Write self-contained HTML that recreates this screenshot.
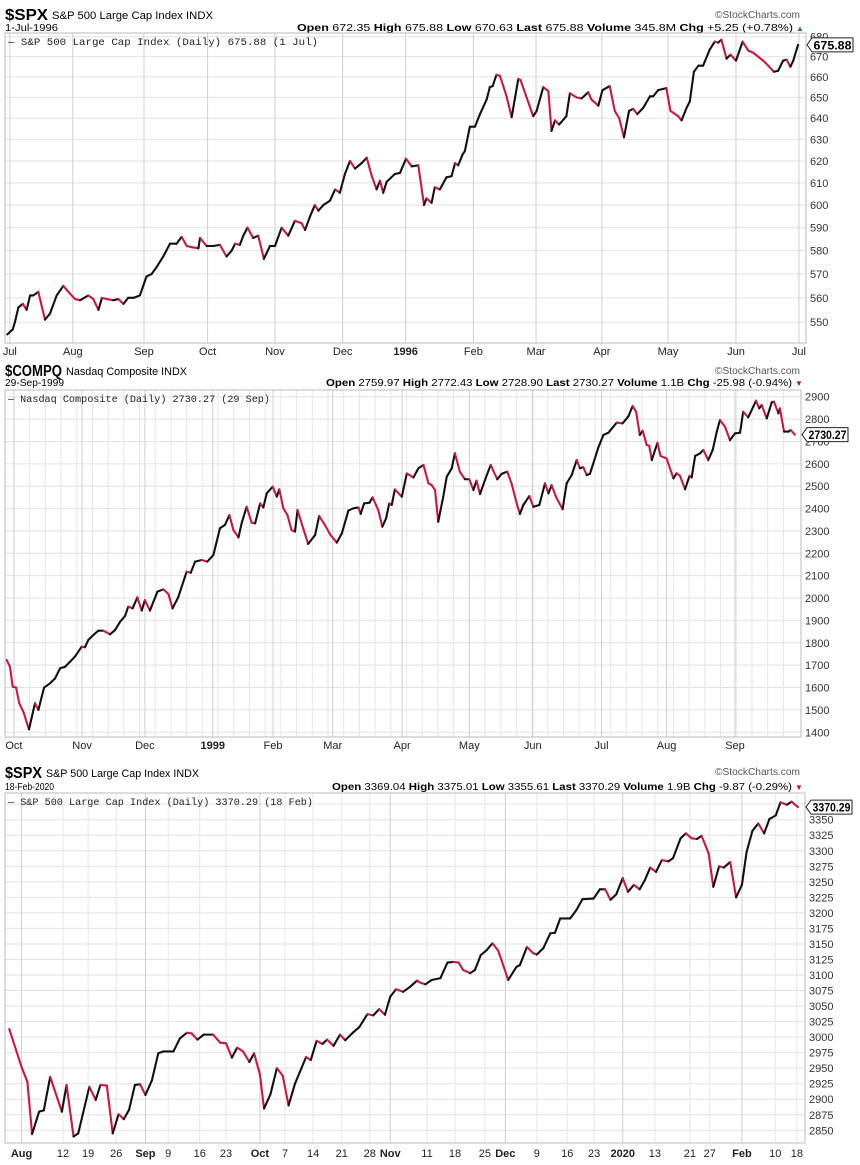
<!DOCTYPE html>
<html><head><meta charset="utf-8">
<style>
html,body{margin:0;padding:0;background:#fff;}
svg{display:block;font-family:"Liberation Sans",sans-serif;}
.mono{font-family:"Liberation Mono",monospace;}
</style></head>
<body>
<svg id="chart" width="860" height="1165" viewBox="0 0 860 1165" xmlns="http://www.w3.org/2000/svg">
<!-- Panel 1 header -->
<g>
<text x="5" y="20" font-size="16" font-weight="bold" textLength="43" lengthAdjust="spacingAndGlyphs">$SPX</text>
<text x="52" y="19" font-size="11" textLength="161" lengthAdjust="spacingAndGlyphs">S&amp;P 500 Large Cap Index  INDX</text>
<text x="715" y="18" font-size="10.5" fill="#555" textLength="85" lengthAdjust="spacingAndGlyphs">©StockCharts.com</text>
<text x="5" y="31" font-size="10.5" textLength="53" lengthAdjust="spacingAndGlyphs">1-Jul-1996</text>
<text x="297" y="31" font-size="10.5" textLength="496" lengthAdjust="spacingAndGlyphs"><tspan font-weight="bold">Open</tspan> 672.35 <tspan font-weight="bold">High</tspan> 675.88 <tspan font-weight="bold">Low</tspan> 670.63 <tspan font-weight="bold">Last</tspan> 675.88 <tspan font-weight="bold">Volume</tspan> 345.8M <tspan font-weight="bold">Chg</tspan> +5.25 (+0.78%)</text>
<text x="796" y="31" font-size="8" fill="#1a8a3a">▲</text>
</g>
<!-- Panel 2 header -->
<g>
<text x="5" y="376" font-size="16" font-weight="bold" textLength="57" lengthAdjust="spacingAndGlyphs">$COMPQ</text>
<text x="66" y="375" font-size="11" textLength="121" lengthAdjust="spacingAndGlyphs">Nasdaq Composite  INDX</text>
<text x="715" y="374" font-size="10.5" fill="#555" textLength="85" lengthAdjust="spacingAndGlyphs">©StockCharts.com</text>
<text x="5" y="386" font-size="10.5" textLength="59" lengthAdjust="spacingAndGlyphs">29-Sep-1999</text>
<text x="326" y="386" font-size="10.5" textLength="466" lengthAdjust="spacingAndGlyphs"><tspan font-weight="bold">Open</tspan> 2759.97 <tspan font-weight="bold">High</tspan> 2772.43 <tspan font-weight="bold">Low</tspan> 2728.90 <tspan font-weight="bold">Last</tspan> 2730.27 <tspan font-weight="bold">Volume</tspan> 1.1B <tspan font-weight="bold">Chg</tspan> -25.98 (-0.94%)</text>
<text x="795" y="386" font-size="8" fill="#c0103a">▼</text>
</g>
<!-- Panel 3 header -->
<g>
<text x="5" y="778" font-size="16" font-weight="bold" textLength="37" lengthAdjust="spacingAndGlyphs">$SPX</text>
<text x="46" y="777" font-size="11" textLength="153" lengthAdjust="spacingAndGlyphs">S&amp;P 500 Large Cap Index  INDX</text>
<text x="715" y="775" font-size="10.5" fill="#555" textLength="85" lengthAdjust="spacingAndGlyphs">©StockCharts.com</text>
<text x="5" y="790" font-size="10.5" textLength="49" lengthAdjust="spacingAndGlyphs">18-Feb-2020</text>
<text x="332" y="790" font-size="10.5" textLength="460" lengthAdjust="spacingAndGlyphs"><tspan font-weight="bold">Open</tspan> 3369.04 <tspan font-weight="bold">High</tspan> 3375.01 <tspan font-weight="bold">Low</tspan> 3355.61 <tspan font-weight="bold">Last</tspan> 3370.29 <tspan font-weight="bold">Volume</tspan> 1.9B <tspan font-weight="bold">Chg</tspan> -9.87 (-0.29%)</text>
<text x="795" y="790" font-size="8" fill="#c0103a">▼</text>
</g>
</svg>
<script>
// ---------- Panel 1: S&P 500 1995-96 (log scale) ----------
const p1Days = [0.1,1.8,2.5,3.6,5.0,6.2,7.3,8.3,9.9,12.0,13.6,15.7,17.8,19.4,21.5,23.1,25.7,27.3,28.9,30.0,31.5,33.6,35.2,36.8,38.3,40.0,42.0,44.1,45.7,47.3,49.4,51.5,53.6,55.2,56.8,58.4,60.5,61.0,63.1,65.2,67.3,69.4,71.0,72.1,73.6,74.7,76.0,77.8,79.4,81.2,83.1,84.7,86.8,88.9,91.0,93.1,94.2,95.8,97.3,98.4,100.0,102.1,103.7,105.2,106.8,108.4,110.0,112.1,113.7,115.2,116.8,117.9,118.9,120.0,122.6,124.2,126.1,127.9,130.0,131.8,132.6,134.2,135.2,136.8,138.9,140.5,141.6,142.6,144.0,144.7,146.3,147.9,149.5,151.6,152.6,153.5,154.7,155.8,157.9,159.5,161.6,162.3,164.0,166.3,167.4,169.5,171.1,172.1,173.2,174.5,176.8,177.9,180.0,181.6,183.7,184.7,186.9,188.2,190.5,192.1,193.5,195.0,196.6,197.9,199.2,201.1,203.2,204.2,205.8,208.4,209.7,212.1,213.2,214.8,215.8,217.1,218.5,220.0,222.1,223.7,224.8,225.8,227.4,228.7,230.4,232.5,234.3,235.8,239.0,240.6,242.4,243.7,245.3,246.4,247.6,248.5,250.0];
const p1Values = [545,547,550,556,557.5,555,561,561,562.5,551,553.5,561,565,562.5,559.5,559,561,559.5,555,560,559.5,559,559.5,557.5,560,560,561,569,570,573,577.5,583,583,586,582,581.5,581,585.5,582,582,582.5,577.5,580,583,582.5,586.5,590,585.5,586.5,576.5,582,582,590,586.5,593,592,589,595,600,597.5,600,602,607,605.5,614,620,616.5,619,621.5,613.5,607,611,605.5,610.5,614,614.5,621,617.5,618,600,603,601,608,607,612.5,613,619,618,623,624.5,636,636,642,649,655,655.5,661,660.5,650.5,640.5,659,658.5,651,641,643.5,655,653,634,639,637,641,652,650,649.5,652.5,649,646,653.5,655.5,643.5,640,631,643.5,644.5,642,645,650.5,650.5,653.5,654.5,643.5,641,639,645,648,662.5,665.5,665.5,673.5,677.5,677,678.5,669,671,668,677.5,673,672,668,665.5,662.5,663,668,668.5,665,668,675.88];
const p1Ticks = [550,560,570,580,590,600,610,620,630,640,650,660,670,680];
const p1Labels = ["Jul","Aug","Sep","Oct","Nov","Dec","1996","Feb","Mar","Apr","May","Jun","Jul"];
const p1LabelDays = [0.9,20.8,43.3,63.4,84.7,106.1,126,147.4,167.2,188,208.9,230.4,250.3];

// ---------- Panel 2: Nasdaq 1998-99 (linear) ----------
const p2Days = [0,1.05,1.9,3.0,4.0,5.3,7.1,9.0,10.1,11.9,13.8,15.4,17.0,18.6,20.2,21.7,23.9,24.9,26.0,27.6,29.2,30.8,32.9,34.5,36.1,37.7,38.7,40.1,41.6,43.0,44.0,45.6,48.0,49.9,51.5,52.8,54.6,57.3,58.6,60.0,62.1,63.9,65.8,67.9,69.5,70.9,72.2,73.8,74.8,76.4,78.0,79.1,80.7,81.7,82.8,84.7,86.0,86.8,88.1,89.4,90.7,91.8,92.6,94.4,96.0,98.2,99.5,101.3,103.1,105.1,106.7,108.8,110.4,112.0,112.7,113.8,115.5,116.5,118.3,119.6,120.8,121.8,122.6,123.6,125.8,127.4,129.5,131.1,132.7,134.3,135.3,136.4,137.4,139.0,140.1,141.7,142.7,144.3,145.9,147.3,148.6,149.6,150.7,152.3,154.1,156.2,157.6,159.4,160.8,162.4,163.4,164.5,166.4,167.7,169.6,171.4,172.5,173.5,174.9,177.0,178.3,179.9,181.5,182.5,183.6,184.7,185.7,188.4,190.0,191.6,194.2,196.1,197.9,199.3,200.4,201.6,202.5,203.8,204.6,205.4,207.2,208.2,210.1,212.3,213.3,214.4,216.0,217.4,218.1,219.2,220.8,221.8,223.4,224.8,226.1,227.1,228.7,230.3,231.9,233.5,234.5,236.1,237.7,238.6,239.6,240.4,242.0,243.6,244.3,245.7,246.2,247.5,248.9,249.6,251.0];
const p2Values = [1723,1693,1604,1600,1530,1492,1413,1530,1500,1600,1619,1641,1686,1693,1716,1738,1783,1780,1813,1835,1854,1854,1838,1857,1894,1920,1962,1954,2003,1944,1991,1944,2029,2039,2018,1954,2003,2118,2113,2163,2170,2163,2192,2312,2327,2371,2304,2271,2334,2408,2337,2334,2423,2405,2468,2498,2453,2486,2401,2371,2304,2297,2394,2312,2242,2282,2367,2327,2282,2248,2289,2391,2401,2405,2376,2423,2426,2450,2394,2319,2356,2423,2416,2486,2453,2557,2539,2580,2595,2513,2505,2483,2341,2453,2542,2580,2647,2565,2531,2531,2483,2525,2465,2528,2595,2531,2555,2565,2510,2423,2376,2416,2456,2408,2416,2513,2468,2505,2453,2397,2513,2550,2617,2580,2585,2550,2555,2674,2729,2739,2784,2781,2811,2858,2833,2729,2748,2684,2680,2617,2694,2635,2624,2535,2558,2546,2486,2546,2539,2635,2647,2662,2617,2662,2744,2796,2766,2706,2736,2739,2833,2808,2855,2882,2848,2863,2803,2875,2878,2826,2848,2744,2744,2751,2730.27];
const p2Ticks = [1400,1500,1600,1700,1800,1900,2000,2100,2200,2300,2400,2500,2600,2700,2800,2900];
const p2Labels = ["Oct","Nov","Dec","1999","Feb","Mar","Apr","May","Jun","Jul","Aug","Sep"];
const p2LabelDays = [2.3,24,44,65.6,84.8,103.8,125.9,147.3,167.5,189.4,210.1,231.9];

// ---------- Panel 3: S&P 500 2019-20 (linear) ----------
const p3Days = [0,2.1,3.1,3.9,5.1,5.9,7.0,9.0,9.8,11.0,11.8,13.7,14.8,15.6,16.7,17.7,18.7,19.6,20.5,21.5,22.4,23.3,24.4,25.5,26.4,28.1,29.2,30.4,31.2,32.2,33.3,34.9,36.1,37.1,38.1,39.0,40.0,41.1,41.9,42.9,43.6,44.7,45.8,46.8,47.8,48.9,50.8,51.6,52.6,53.6,54.4,55.5,56.6,57.5,58.9,59.9,61.3,62.3,63.3,64.3,65.2,66.2,67.4,68.6,69.8,70.3,71.2,72.3,73.8,75.0,76.0,76.9,77.7,78.9,79.7,80.7,81.7,82.7,83.7,85.4,86.8,87.4,88.6,89.7,90.3,91.4,92.6,93.4,94.3,96.0,97.1,98.1,100.0,101.1,102.0,102.9,103.9,105.0,105.9,106.9,107.9,108.8,109.7,110.7,111.7,112.8,113.6,114.9,115.8,116.8,117.7,118.5,119.7,120.5,121.5,122.3,123.4,124.4,125.4,126.2,127.2,128.2,129.2,130.1,131.2,132.0,133.1,133.9,135.0];
const p3Values = [3013,2952,2928,2844,2880,2882,2936,2880,2923,2840,2845,2920,2899,2923,2922,2845,2876,2868,2883,2923,2924,2907,2930,2974,2977,2977,2998,3007,3006,2996,3004,3004,2991,2990,2967,2983,2977,2960,2974,2940,2885,2908,2950,2938,2890,2925,2968,2963,2994,2989,2996,2986,3004,2995,3008,3016,3037,3035,3045,3036,3065,3077,3073,3081,3091,3088,3085,3092,3095,3120,3121,3120,3108,3103,3108,3132,3140,3151,3139,3092,3113,3116,3145,3135,3133,3143,3167,3168,3191,3191,3205,3222,3223,3238,3238,3221,3230,3256,3234,3245,3238,3253,3273,3266,3285,3283,3288,3320,3328,3320,3319,3324,3296,3242,3275,3273,3282,3225,3245,3298,3332,3344,3328,3351,3357,3378,3374,3379,3370.29];
const p3Ticks = [2850,2875,2900,2925,2950,2975,3000,3025,3050,3075,3100,3125,3150,3175,3200,3225,3250,3275,3300,3325,3350,3375];
const p3Labels = ["Aug","12","19","26","Sep","9","16","23","Oct","7","14","21","28","Nov","11","18","25","Dec","9","16","23","2020","13","21","27","Feb","10","18"];
const p3LabelDays = [2.1,9.2,13.5,18.3,23.3,27.2,32.6,37.1,42.9,47.2,52,56.9,61.7,65.2,71.5,76.3,81.4,84.9,90.3,95.5,100.1,105,110.5,116.5,119.9,125.4,131.1,134.8];
const p3Bold = ["Aug","Sep","Oct","Nov","Dec","2020","Feb"];

const NS = "http://www.w3.org/2000/svg";
const svg = document.getElementById('chart');
function mk(tag, attrs, parent){
  const e = document.createElementNS(NS, tag);
  for (const k in attrs) e.setAttribute(k, attrs[k]);
  (parent||svg).appendChild(e);
  return e;
}

function drawPanel(o){
  const g = mk('g', {});
  
  
  // horizontal grid + y ticks
  o.ticks.forEach(t => {
    const y = o.ys(t);
    const ln = mk('line', {x1:o.left, x2:o.right, y1:y, y2:y, stroke:'#e2e2e2', 'stroke-width':1}, g);
    
    
    const tx = mk('text', {x:o.right+4, y:y+4, 'font-size':11, fill:'#333'}, g);
    
    
    tx.textContent = t;
  });
  // extra weekly gridlines
  if (o.weekly) {
    for (let d = o.weekly[0]; d <= o.weekly[1]; d += 5) {
      const x = o.xs(d);
      const ln = mk('line', {x1:x, x2:x, y1:o.top, y2:o.bottom, stroke:'#e6e6e6', 'stroke-width':1}, g);
      
      
    }
  }
  // vertical gridlines + x labels
  o.labels.forEach((lab, i) => {
    const x = o.xs(o.labelDays[i]);
    const major = o.bold.includes(lab);
    const ln = mk('line', {x1:x, x2:x, y1:o.top, y2:o.bottom, stroke: major ? '#cfcfcf' : '#e6e6e6', 'stroke-width':1}, g);
    
    
    const tx = mk('text', {x:x, y:o.labelY, 'font-size':11, 'text-anchor':'middle', fill:'#222', 'font-weight': (/^\d{4}$/.test(lab) || (o.boldMonths && major)) ? 'bold' : 'normal'}, g);
    
    
    tx.textContent = lab;
  });
  // frame
  const fr = mk('rect', {x:o.left, y:o.top, width:o.right-o.left, height:o.bottom-o.top, fill:'none', stroke:'#bbb', 'stroke-width':1}, g);
  
  
  // legend
  const lg = mk('text', {x:o.left+3, y:o.top+12, 'font-size':10.5, class:'mono', fill:'#222', textLength:o.legendLen, lengthAdjust:'spacingAndGlyphs'}, g);
  
  
  lg.textContent = o.legend;
  // series
  const sg = mk('g', {}, g);
  
  
  for (let i = 1; i < o.values.length; i++) {
    const down = o.values[i] < o.values[i-1];
    const seg = mk('line', {x1:o.xs(o.days[i-1]), y1:o.ys(o.values[i-1]), x2:o.xs(o.days[i]), y2:o.ys(o.values[i]), stroke: down ? '#d0153e' : '#111', 'stroke-width':2.1, 'stroke-linecap':'round'}, sg);
    
    
  }
  // last price box
  const lv = o.values[o.values.length-1];
  const ly = o.ys(lv);
  const bx = o.right + 6, bw = 41;
  const bp = mk('path', {d:`M${o.right+1},${ly} L${bx},${ly-7} L${bx+bw},${ly-7} L${bx+bw},${ly+7} L${bx},${ly+7} Z`, fill:'#fff', stroke:'#222', 'stroke-width':1}, g);
  
  
  const bt = mk('text', {x:bx+bw/2, y:ly+4.5, 'font-size':12, 'font-weight':'bold', 'text-anchor':'middle', textLength:bw-3, lengthAdjust:'spacingAndGlyphs'}, g);
  
  
  bt.textContent = o.lastText;
}

// Panel 1 scales (log)
const p1k = 1345;
drawPanel({
  name:'spx-1996-chart', left:5, right:806, top:33, bottom:343, labelY:355,
  xs: d => 7 + d/250*791,
  ys: v => 36.7 + (Math.log(680) - Math.log(v))*p1k,
  days:p1Days, values:p1Values, ticks:p1Ticks, labels:p1Labels, labelDays:p1LabelDays,
  bold:p1Labels, boldMonths:false,
  legend:'— S&P 500 Large Cap Index (Daily) 675.88 (1 Jul)', legendLen:310, lastText:'675.88'
});
drawPanel({
  name:'compq-1999-chart', left:5, right:801, top:390, bottom:737, labelY:749,
  xs: d => 6.7 + d/251*788.3,
  ys: v => 396.7 + (2900 - v)*0.22373,
  days:p2Days, values:p2Values, ticks:p2Ticks, labels:p2Labels, labelDays:p2LabelDays,
  bold:p2Labels, boldMonths:false, weekly:[2.3, 251],
  legend:'— Nasdaq Composite (Daily) 2730.27 (29 Sep)', legendLen:262, lastText:'2730.27'
});
drawPanel({
  name:'spx-2020-chart', left:5, right:805, top:793, bottom:1143, labelY:1157,
  xs: d => 9.3 + d/135*788.7,
  ys: v => 819.7 + (3350 - v)*0.6212,
  days:p3Days, values:p3Values, ticks:p3Ticks, labels:p3Labels, labelDays:p3LabelDays,
  bold:p3Bold, boldMonths:true,
  legend:'— S&P 500 Large Cap Index (Daily) 3370.29 (18 Feb)', legendLen:305, lastText:'3370.29'
});
</script>
</body></html>
